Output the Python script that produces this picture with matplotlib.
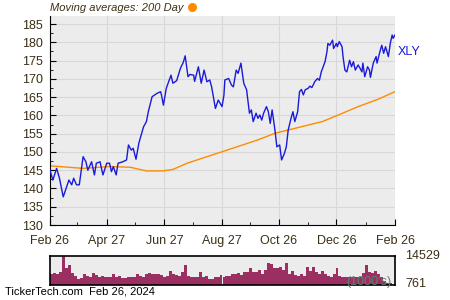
import datetime as dt
import numpy as np
import matplotlib
matplotlib.use("Agg")
import matplotlib.pyplot as plt
import matplotlib.dates as mdates

plt.rcParams["font.family"] = ["Liberation Sans", "DejaVu Sans"]

start = dt.date(2023, 2, 26)

# XLY closes (day offset from Feb 26 2023, price)
price_days = [0, 3, 7, 10, 14, 17, 20, 23, 25, 28, 31, 35, 38, 40, 44, 47, 49, 53, 54, 56,
              60, 63, 65, 67, 70, 72, 77, 81, 83, 86, 88, 91, 94, 99, 102, 104, 108, 113, 117, 118,
              120, 123, 128, 130, 134, 138, 141, 143, 146, 148, 152, 153, 157, 160, 163, 166, 169, 171, 175, 178,
              182, 184, 185, 189, 192, 194, 197, 199, 202, 205, 208, 211, 213, 215, 218, 220, 222, 224, 226, 229,
              231, 233, 235, 238, 240, 243, 245, 248, 250, 252, 255, 257, 259, 262, 264, 266, 268, 270, 273, 275,
              277, 279, 280, 283, 285, 287, 291, 293, 294, 296, 299, 300, 303, 304, 306, 309, 310, 312, 314, 317,
              319, 321, 323, 326, 328, 330, 331, 333, 336, 338, 339, 342, 345, 346, 349, 351, 353, 355, 358, 360,
              362, 363, 365]
price = [145.0, 142.3, 145.5, 142.8, 137.7, 140.0, 142.3, 141.0, 142.8, 141.0, 141.0, 148.7, 147.3, 145.0, 147.3, 143.7, 146.9, 147.3, 146.0, 143.7,
         146.9, 146.9, 144.6, 146.0, 143.7, 146.9, 147.3, 147.8, 151.9, 150.5, 151.0, 148.0, 152.4, 156.9, 158.3, 161.0, 165.1, 166.0, 166.5, 165.5,
         162.8, 167.4, 171.0, 168.8, 169.5, 172.9, 174.5, 176.3, 170.6, 171.2, 171.0, 169.3, 173.3, 168.8, 172.4, 169.2, 169.7, 167.8, 161.9, 164.2,
         162.4, 165.5, 169.7, 170.1, 168.3, 167.8, 172.4, 171.5, 174.3, 168.8, 167.0, 160.6, 161.5, 158.3, 160.6, 159.2, 160.1, 158.7, 160.6, 162.4,
         161.0, 157.8, 161.5, 156.0, 151.4, 151.9, 147.8, 149.6, 151.4, 156.0, 159.2, 161.0, 158.3, 161.0, 166.5, 167.1, 165.6, 167.0, 167.4, 168.0,
         167.6, 168.6, 169.2, 170.1, 169.6, 171.9, 174.7, 177.4, 179.7, 179.2, 180.6, 178.3, 179.7, 178.8, 180.2, 178.8, 176.1, 172.4, 171.9, 175.1,
         173.3, 174.7, 172.4, 173.8, 172.9, 171.9, 174.3, 170.6, 173.3, 172.4, 170.4, 174.3, 176.1, 174.3, 177.4, 179.2, 177.0, 178.8, 176.1, 179.7,
         182.0, 181.1, 182.0]

# 200 day moving average
ma_days = [0, 35, 63, 85, 102, 119, 130, 145, 166, 185, 220, 238, 252, 288, 305, 326, 347, 365]
ma200 = [146.2, 145.5, 146.0, 145.8, 144.8, 144.8, 145.2, 146.9, 148.7, 150.3, 153.3, 155.1, 156.0, 158.3, 160.1, 162.4, 164.4, 166.5]

# volume (thousands), roughly every 3 days
volume = [5500, 6000, 5500, 6400, 14529, 8500, 10000, 5800, 4500, 2840, 3340, 5500, 4500, 3840, 6200, 5000, 3840, 4500, 3840, 4170,
          4170, 5500, 3840, 4500, 3340, 3340, 4170, 3840, 3840, 5500, 4500, 3840, 5500, 6200, 5500, 5500, 5500, 5000, 4170, 4500,
          7200, 5500, 5000, 4500, 6700, 10000, 4500, 3840, 4170, 4170, 6700, 3840, 4500, 2840, 3000, 3840, 3840, 5000, 4170, 4500,
          4500, 5500, 5500, 6200, 5000, 6700, 6700, 8350, 6700, 6700, 7500, 5500, 7500, 10850, 10500, 8350, 8350, 9200, 7500, 10850,
          5500, 7200, 5000, 4500, 5500, 4500, 9200, 7200, 8850, 6700, 5500, 7200, 5500, 4500, 4170, 5500, 8350, 4500, 4170, 4170,
          4170, 4170, 4170, 4170, 4170, 6000, 10000, 6700, 6000, 7200, 5500, 4170, 2000, 761, 761]

tick_days = [0, 60, 121, 182, 242, 303, 365]
tick_labels = ["Feb 26", "Apr 27", "Jun 27", "Aug 27", "Oct 26", "Dec 26", "Feb 26"]
minor_days = [29, 90, 151, 212, 273, 334]

def to_dates(days):
    return [start + dt.timedelta(days=int(d)) for d in days]

txt = "#3b2f17"
bg = "#ececec"

fig = plt.figure(figsize=(4.5, 3), dpi=100)
ax = fig.add_axes([50/450, 1 - 225/300, 345/450, 209/300])
ax.set_facecolor(bg)
ax.plot(to_dates(price_days), price, color="#1a1adb", lw=1.0, zorder=3)
ax.plot(to_dates(ma_days), ma200, color="#ff8c00", lw=1.0, zorder=2)
ax.set_ylim(130, 187.2)
ax.set_xlim(to_dates([0])[0], to_dates([365])[0])
ax.set_yticks(np.arange(130, 186, 5))
ax.set_yticks(np.arange(132.5, 186, 5), minor=True)
ax.set_xticks(mdates.date2num(to_dates(tick_days)))
ax.set_xticklabels(tick_labels)
ax.set_xticks(mdates.date2num(to_dates(minor_days)), minor=True)
ax.tick_params(axis="both", which="both", direction="in", colors="black", labelcolor=txt, labelsize=9)
ax.tick_params(which="major", length=4)
ax.tick_params(which="minor", length=2.5)
ax.tick_params(axis="x", pad=7)
ax.tick_params(axis="y", pad=5)
ax.grid(True, which="major", color="#d8d8d8", lw=0.8)
ax.set_axisbelow(True)
for s in ["top", "right"]:
    ax.spines[s].set_visible(False)
ax.text(1.008, 0.83, "XLY", transform=ax.transAxes, color="#1a1adb", fontsize=9, va="center")

fig.text(50/450, 1 - 8/300, "Moving averages: 200 Day", style="italic", color=txt, fontsize=8, va="center")
ax.plot([192/450], [1 - 7/300], "o", color="#ff8c00", ms=6.5, mec="none",
        transform=fig.transFigure, clip_on=False)

vax = fig.add_axes([50/450, 1 - 285/300, 345/450, 29/300])
vax.set_facecolor(bg)
vax.bar(np.arange(len(volume)), volume, width=1.0, color="#9b2f62", lw=0)
vax.set_xlim(-0.5, len(volume) + 0.5)
vax.set_ylim(0, 14529)
vax.set_xticks([])
vax.set_yticks([])
for s in vax.spines.values():
    s.set_linewidth(1.2)
vax.text(1.03, 1.0, "14529", transform=vax.transAxes, color=txt, fontsize=9, va="center")
vax.text(1.03, 0.05, "761", transform=vax.transAxes, color=txt, fontsize=9, va="center")
vax.text(0.99, 0.12, "(1000's)", transform=vax.transAxes, color="#5e7f6e", fontsize=9, va="center", ha="right")

fig.text(5/450, 1 - 292/300, "TickerTech.com  Feb 26, 2024", color="black", fontsize=8, va="center")

fig.savefig("out.png", dpi=100)
